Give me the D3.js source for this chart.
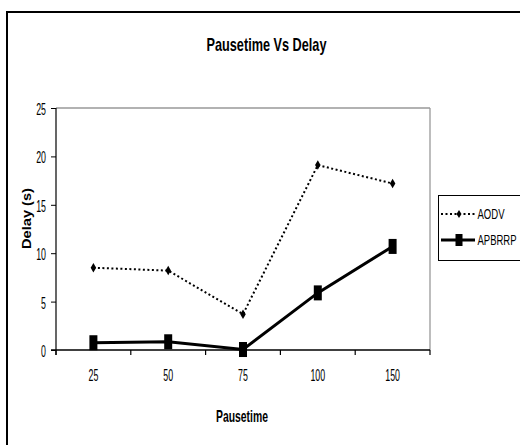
<!DOCTYPE html>
<html>
<head>
<meta charset="utf-8">
<script src="https://cdn.jsdelivr.net/npm/d3@7/dist/d3.min.js"></script>
<style>
  html, body { margin: 0; padding: 0; background: #fff; }
  svg { display: block; }
  .narrow { font-family: "Liberation Sans Narrow", "Arial Narrow", "Liberation Sans", Arial, sans-serif; }
</style>
</head>
<body>
<svg id="chart" width="520" height="445"></svg>
<script>
const categories = ["25", "50", "75", "100", "150"];
const aodv = [8.5, 8.2, 3.7, 19.1, 17.2];
const apbrrp = [0.75, 0.85, 0.05, 5.9, 10.7];
const yTicks = [0, 5, 10, 15, 20, 25];
const seriesNames = ["AODV", "APBRRP"];
const titleText = "Pausetime Vs Delay";
const xTitle = "Pausetime";
const yTitle = "Delay (s)";

(function () {
const svg = d3.select("#chart");
const pLeft = 56, pRight = 430, pTop = 108, pBottom = 350;

function squeezeChars(sel, perChar) {
  sel.each(function() {
    const n = this.textContent.length;
    d3.select(this).attr("textLength", n * perChar).attr("lengthAdjust", "spacingAndGlyphs");
  });
}
function fitWidth(sel, w) {
  sel.attr("textLength", w).attr("lengthAdjust", "spacingAndGlyphs");
}

// outer frame
svg.append("rect").attr("x", 7).attr("y", 12).attr("width", 620).attr("height", 600)
  .attr("fill", "none").attr("stroke", "#000").attr("stroke-width", 2);

const x = d3.scaleBand().domain(categories).range([pLeft, pRight]).padding(0);
const y = d3.scaleLinear().domain([0, 25]).range([pBottom, pTop]);

// plot area border (grey top & right)
svg.append("line").attr("x1", pLeft).attr("x2", pRight).attr("y1", y(25)).attr("y2", y(25))
  .attr("stroke", "#999").attr("stroke-width", 1.3);
svg.append("line").attr("x1", pRight).attr("x2", pRight).attr("y1", y(25)).attr("y2", pBottom)
  .attr("stroke", "#999").attr("stroke-width", 1.3);

// y axis
const yAxis = svg.append("g").attr("transform", `translate(${pLeft},0)`)
  .call(d3.axisLeft(y).tickValues(yTicks).tickSize(5).tickPadding(5).tickFormat(d3.format("d")));
yAxis.select(".domain").remove();
yAxis.selectAll(".tick line").attr("stroke", "#000");
yAxis.selectAll("text").attr("class", "narrow").attr("font-size", 16).attr("fill", "#000")
  .attr("dy", "0.4em").call(squeezeChars, 4.9);
svg.append("line").attr("x1", pLeft).attr("x2", pLeft).attr("y1", y(25)).attr("y2", pBottom + 5)
  .attr("stroke", "#000").attr("stroke-width", 1.2);

// x axis
const xAxis = svg.append("g").attr("transform", `translate(0,${pBottom})`)
  .call(d3.axisBottom(x).tickSize(0).tickPadding(20));
xAxis.select(".domain").remove();
xAxis.selectAll("text").attr("class", "narrow").attr("font-size", 16).attr("fill", "#000")
  .call(squeezeChars, 4.9);
const bounds = categories.map(c => x(c)).concat([x(categories[categories.length - 1]) + x.bandwidth()]);
svg.append("g").selectAll("line").data(bounds).join("line")
  .attr("x1", d => d).attr("x2", d => d).attr("y1", pBottom).attr("y2", pBottom + 5)
  .attr("stroke", "#000").attr("stroke-width", 1.2);
svg.append("line").attr("x1", pLeft - 5).attr("x2", pRight).attr("y1", pBottom).attr("y2", pBottom)
  .attr("stroke", "#000").attr("stroke-width", 1.5);

const cx = c => x(c) + x.bandwidth() / 2;

// AODV line
const line = d3.line().x((d, i) => cx(categories[i])).y(d => y(d));
svg.append("path").datum(aodv).attr("d", line).attr("fill", "none")
  .attr("stroke", "#000").attr("stroke-width", 2).attr("stroke-dasharray", "2,2.5");
const diamond = (px, py, w, h) => `M${px},${py - h / 2}L${px + w / 2},${py}L${px},${py + h / 2}L${px - w / 2},${py}Z`;
svg.append("g").selectAll("path").data(aodv).join("path")
  .attr("d", (d, i) => diamond(cx(categories[i]), y(d), 5.5, 9.5)).attr("fill", "#000");

// APBRRP line
svg.append("path").datum(apbrrp).attr("d", line).attr("fill", "none")
  .attr("stroke", "#000").attr("stroke-width", 3);
svg.append("g").selectAll("rect").data(apbrrp).join("rect")
  .attr("x", (d, i) => cx(categories[i]) - 4).attr("y", d => y(d) - 7.5)
  .attr("width", 8).attr("height", 15).attr("fill", "#000");

// title
svg.append("text").attr("class", "narrow").attr("x", 266.5).attr("y", 51)
  .attr("text-anchor", "middle").attr("font-size", 19).attr("font-weight", "bold")
  .text(titleText).call(fitWidth, 120);

// x title
svg.append("text").attr("class", "narrow").attr("x", 242).attr("y", 422)
  .attr("text-anchor", "middle").attr("font-size", 16.5).attr("font-weight", "bold")
  .text(xTitle).call(fitWidth, 52);

// y title
svg.append("text").attr("transform", "translate(30.5,218.5) rotate(-90)")
  .attr("text-anchor", "middle").attr("font-family", "Liberation Sans, Arial, sans-serif")
  .attr("font-size", 13).attr("font-weight", "bold")
  .text(yTitle).call(fitWidth, 61);

// legend
const lg = svg.append("g");
lg.append("rect").attr("x", 438.5).attr("y", 195.5).attr("width", 120).attr("height", 65)
  .attr("fill", "#fff").attr("stroke", "#000").attr("stroke-width", 1);
const legendY = [214, 240];
lg.append("line").attr("x1", 441).attr("x2", 475).attr("y1", legendY[0]).attr("y2", legendY[0])
  .attr("stroke", "#000").attr("stroke-width", 2).attr("stroke-dasharray", "2,2.5");
lg.append("path").attr("d", diamond(459, legendY[0], 5, 8)).attr("fill", "#000");
lg.append("line").attr("x1", 441).attr("x2", 475).attr("y1", legendY[1]).attr("y2", legendY[1])
  .attr("stroke", "#000").attr("stroke-width", 3);
lg.append("rect").attr("x", 455.5).attr("y", legendY[1] - 6).attr("width", 7).attr("height", 12).attr("fill", "#000");
const legendW = [27, 39];
lg.selectAll("text.leg").data(seriesNames).join("text").attr("class", "narrow leg")
  .attr("x", 477.5).attr("y", (d, i) => legendY[i]).attr("dy", "0.36em")
  .attr("font-size", 15).attr("fill", "#000").text(d => d)
  .each(function(d, i) { d3.select(this).attr("textLength", legendW[i]).attr("lengthAdjust", "spacingAndGlyphs"); });
})();
</script>
</body>
</html>
